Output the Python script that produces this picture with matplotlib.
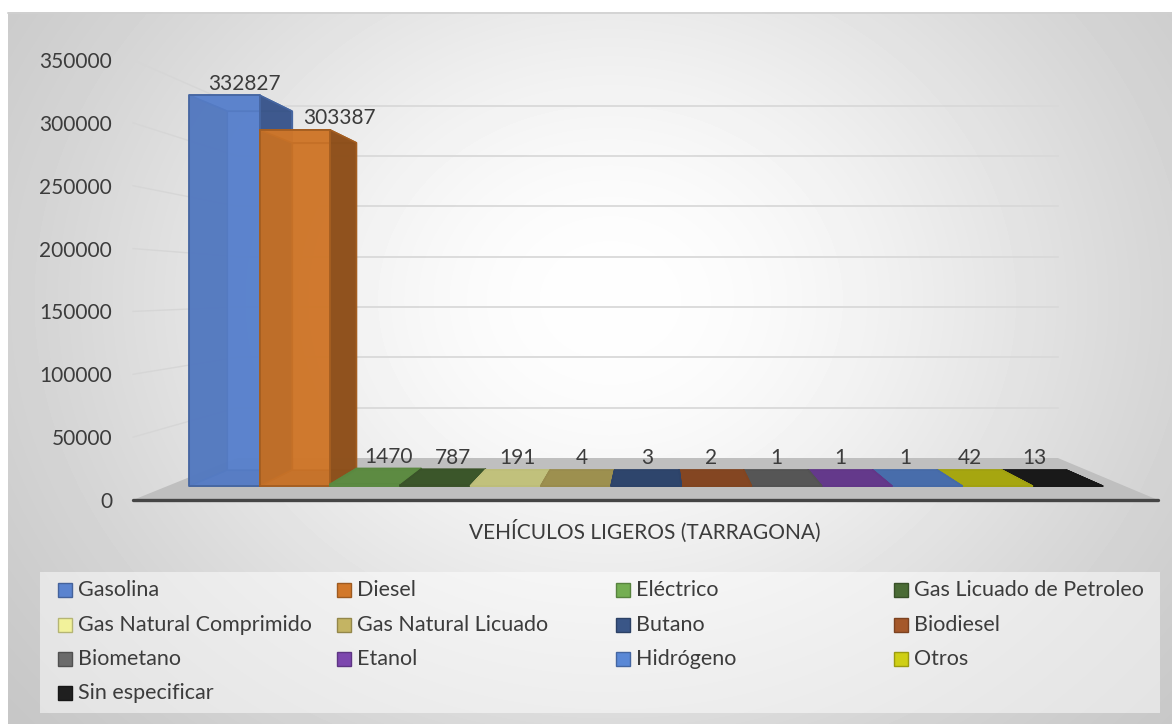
import numpy as np
import matplotlib.pyplot as plt
from matplotlib.patches import Polygon, Rectangle
from matplotlib.colors import to_rgb

plt.rcParams['font.family'] = ['Lato', 'DejaVu Sans']

# Parque de vehículos ligeros por tipo de combustible
series = ['Gasolina', 'Diesel', 'Eléctrico', 'Gas Licuado de Petroleo',
          'Gas Natural Comprimido', 'Gas Natural Licuado', 'Butano', 'Biodiesel',
          'Biometano', 'Etanol', 'Hidrógeno', 'Otros', 'Sin especificar']
values = [332827, 303387, 1470, 787, 191, 4, 3, 2, 1, 1, 1, 42, 13]
colors = ['#5A83CF', '#D2782A', '#74AE52', '#4A6B35', '#F2F29B', '#C4B463',
          '#3A5687', '#A5582A', '#6B6B6B', '#7D47AE', '#5A88D6', '#CFCF14', '#1F1F1F']
category = 'VEHÍCULOS LIGEROS (TARRAGONA)'
yticks = [0, 50000, 100000, 150000, 200000, 250000, 300000, 350000]

W, H = 1172, 724
TXT = '#3C3C3C'
fig = plt.figure(figsize=(W / 100, H / 100), dpi=100)

# chart area background: soft radial grey gradient
bg = fig.add_axes([0, 0, 1, 1], zorder=0)
xs = np.arange(8, W)
ys = np.arange(12, H)
gx, gy = np.meshgrid(xs, ys)
r2 = ((gx - 610) / 560) ** 2 + ((gy - 300) / 470) ** 2
shade = (188 + 66 * np.exp(-0.95 * r2)) / 255
bg.imshow(shade, cmap='gray', vmin=0, vmax=1, extent=[8, W, H, 12],
          aspect='auto', interpolation='bilinear')
bg.plot([8, W], [12.5, 12.5], color='#D0D0D0', lw=1.2)
bg.set_xlim(0, W)
bg.set_ylim(H, 0)
bg.axis('off')

# legend panel
bg.add_patch(Rectangle((40, 572), 1120, 141, facecolor='white', alpha=0.5, lw=0))
col_x = [58, 337, 616, 894]
row_y = [590, 625, 659, 693]
for i, (name, c) in enumerate(zip(series, colors)):
    x = col_x[i % 4]
    y = row_y[i // 4]
    edge = tuple(np.array(to_rgb(c)) * 0.75)
    bg.add_patch(Rectangle((x, y - 7), 14, 14, facecolor=c, edgecolor=edge, lw=1))
    bg.text(x + 20, y, name, fontsize=15.5, color=TXT, va='center', ha='left')

fig.text(645 / W, 1 - 531 / H, category, fontsize=15, color=TXT,
         ha='center', va='center')

# front plane of the 3D plot as a regular axes
ax = fig.add_axes([133 / W, (H - 500) / H, 1025 / W, 440 / H], zorder=1)
ax.set_facecolor('none')
ax.set_xlim(0, 13)
ax.set_ylim(0, 350000)
for s in ax.spines.values():
    s.set_visible(False)
ax.set_xticks([])
ax.set_yticks(yticks)
ax.set_yticklabels([str(t) for t in yticks])
ax.tick_params(axis='y', length=0, pad=15, labelsize=15, labelcolor=TXT)

# perspective: points recede toward a vanishing point
VPU, VPV = 6.62, 167845
FLOOR = 0.199
FA, FB = 0.066, 0.142


def proj(u, v, f):
    return (u + f * (VPU - u), v + f * (VPV - v))


def poly(pts, fc, ec, alpha, z, lw=1.1):
    p = Polygon([proj(*q) for q in pts], closed=True,
                facecolor=(*to_rgb(fc), alpha), edgecolor=ec, lw=lw,
                zorder=z, clip_on=False, joinstyle='round')
    ax.add_patch(p)


# gridlines on side and back walls
for t in yticks[1:]:
    a, b, c = proj(0, t, 0), proj(0, t, FLOOR), proj(13, t, FLOOR)
    ax.plot([a[0], b[0]], [a[1], b[1]], color='#D6D6D6', lw=1.0, zorder=1, clip_on=False)
    ax.plot([b[0], c[0]], [b[1], c[1]], color='#D9D9D9', lw=1.3, zorder=1, clip_on=False)

# floor
poly([(0, 0, 0), (13, 0, 0), (13, 0, FLOOR), (0, 0, FLOOR)], '#BFBFBF', 'none', 1, 2, lw=0)
ax.plot([0, 13], [0, 0], color='#454545', lw=2.4, solid_capstyle='round',
        zorder=2.5, clip_on=False)

BW = 0.954
margin = (13 - 13 * BW) / 2


def dark(c, k):
    return tuple(np.clip(np.array(to_rgb(c)) * k, 0, 1))


order = sorted(range(len(values)),
               key=lambda i: -abs(margin + (i + 0.5) * BW - VPU))
z = 3
for i in order:
    u0 = margin + i * BW
    u1 = u0 + BW
    v = values[i]
    c = colors[i]
    ec = dark(c, 0.78)
    front = [(u0, 0, FA), (u1, 0, FA), (u1, v, FA), (u0, v, FA)]
    back = [(u0, 0, FB), (u1, 0, FB), (u1, v, FB), (u0, v, FB)]
    left = [(u0, 0, FA), (u0, 0, FB), (u0, v, FB), (u0, v, FA)]
    right = [(u1, 0, FA), (u1, 0, FB), (u1, v, FB), (u1, v, FA)]
    bottom = [(u0, 0, FA), (u1, 0, FA), (u1, 0, FB), (u0, 0, FB)]
    top = [(u0, v, FA), (u1, v, FA), (u1, v, FB), (u0, v, FB)]
    left_of_vp = (u0 + u1) / 2 < VPU
    near, far = (right, left) if left_of_vp else (left, right)

    poly(back, dark(c, 0.95), ec, 0.9, z, lw=0.9); z += 0.01
    poly(bottom, dark(c, 0.8), ec, 0.9, z, lw=0.9); z += 0.01
    poly(far, dark(c, 0.72), ec, 0.9, z, lw=0.9); z += 0.01
    if v > VPV:
        poly(top, dark(c, 0.95), ec, 0.9, z); z += 0.01
        poly(near, dark(c, 0.66), ec, 0.92, z); z += 0.01
    else:
        poly(near, dark(c, 0.66), ec, 0.9, z); z += 0.01
        poly(top, dark(c, 0.8), ec, 0.95, z); z += 0.01
    poly(front, c, ec, 0.72, z, lw=1.3); z += 0.01

# value labels sit above the back edge of each bar's top
label_dx = {0: -15, 1: 15}
for i, v in enumerate(values):
    uc = margin + (i + 0.5) * BW
    xa = proj(uc, v, FB)[0]
    va = max(proj(uc, v, FA)[1], proj(uc, v, FB)[1])
    ax.annotate(str(v), xy=(xa, va), xytext=(label_dx.get(i, 0) * 0.72, 4),
                textcoords='offset points', ha='center', va='baseline',
                fontsize=15, color=TXT, zorder=10, annotation_clip=False)

fig.savefig('out.png', dpi=100)
